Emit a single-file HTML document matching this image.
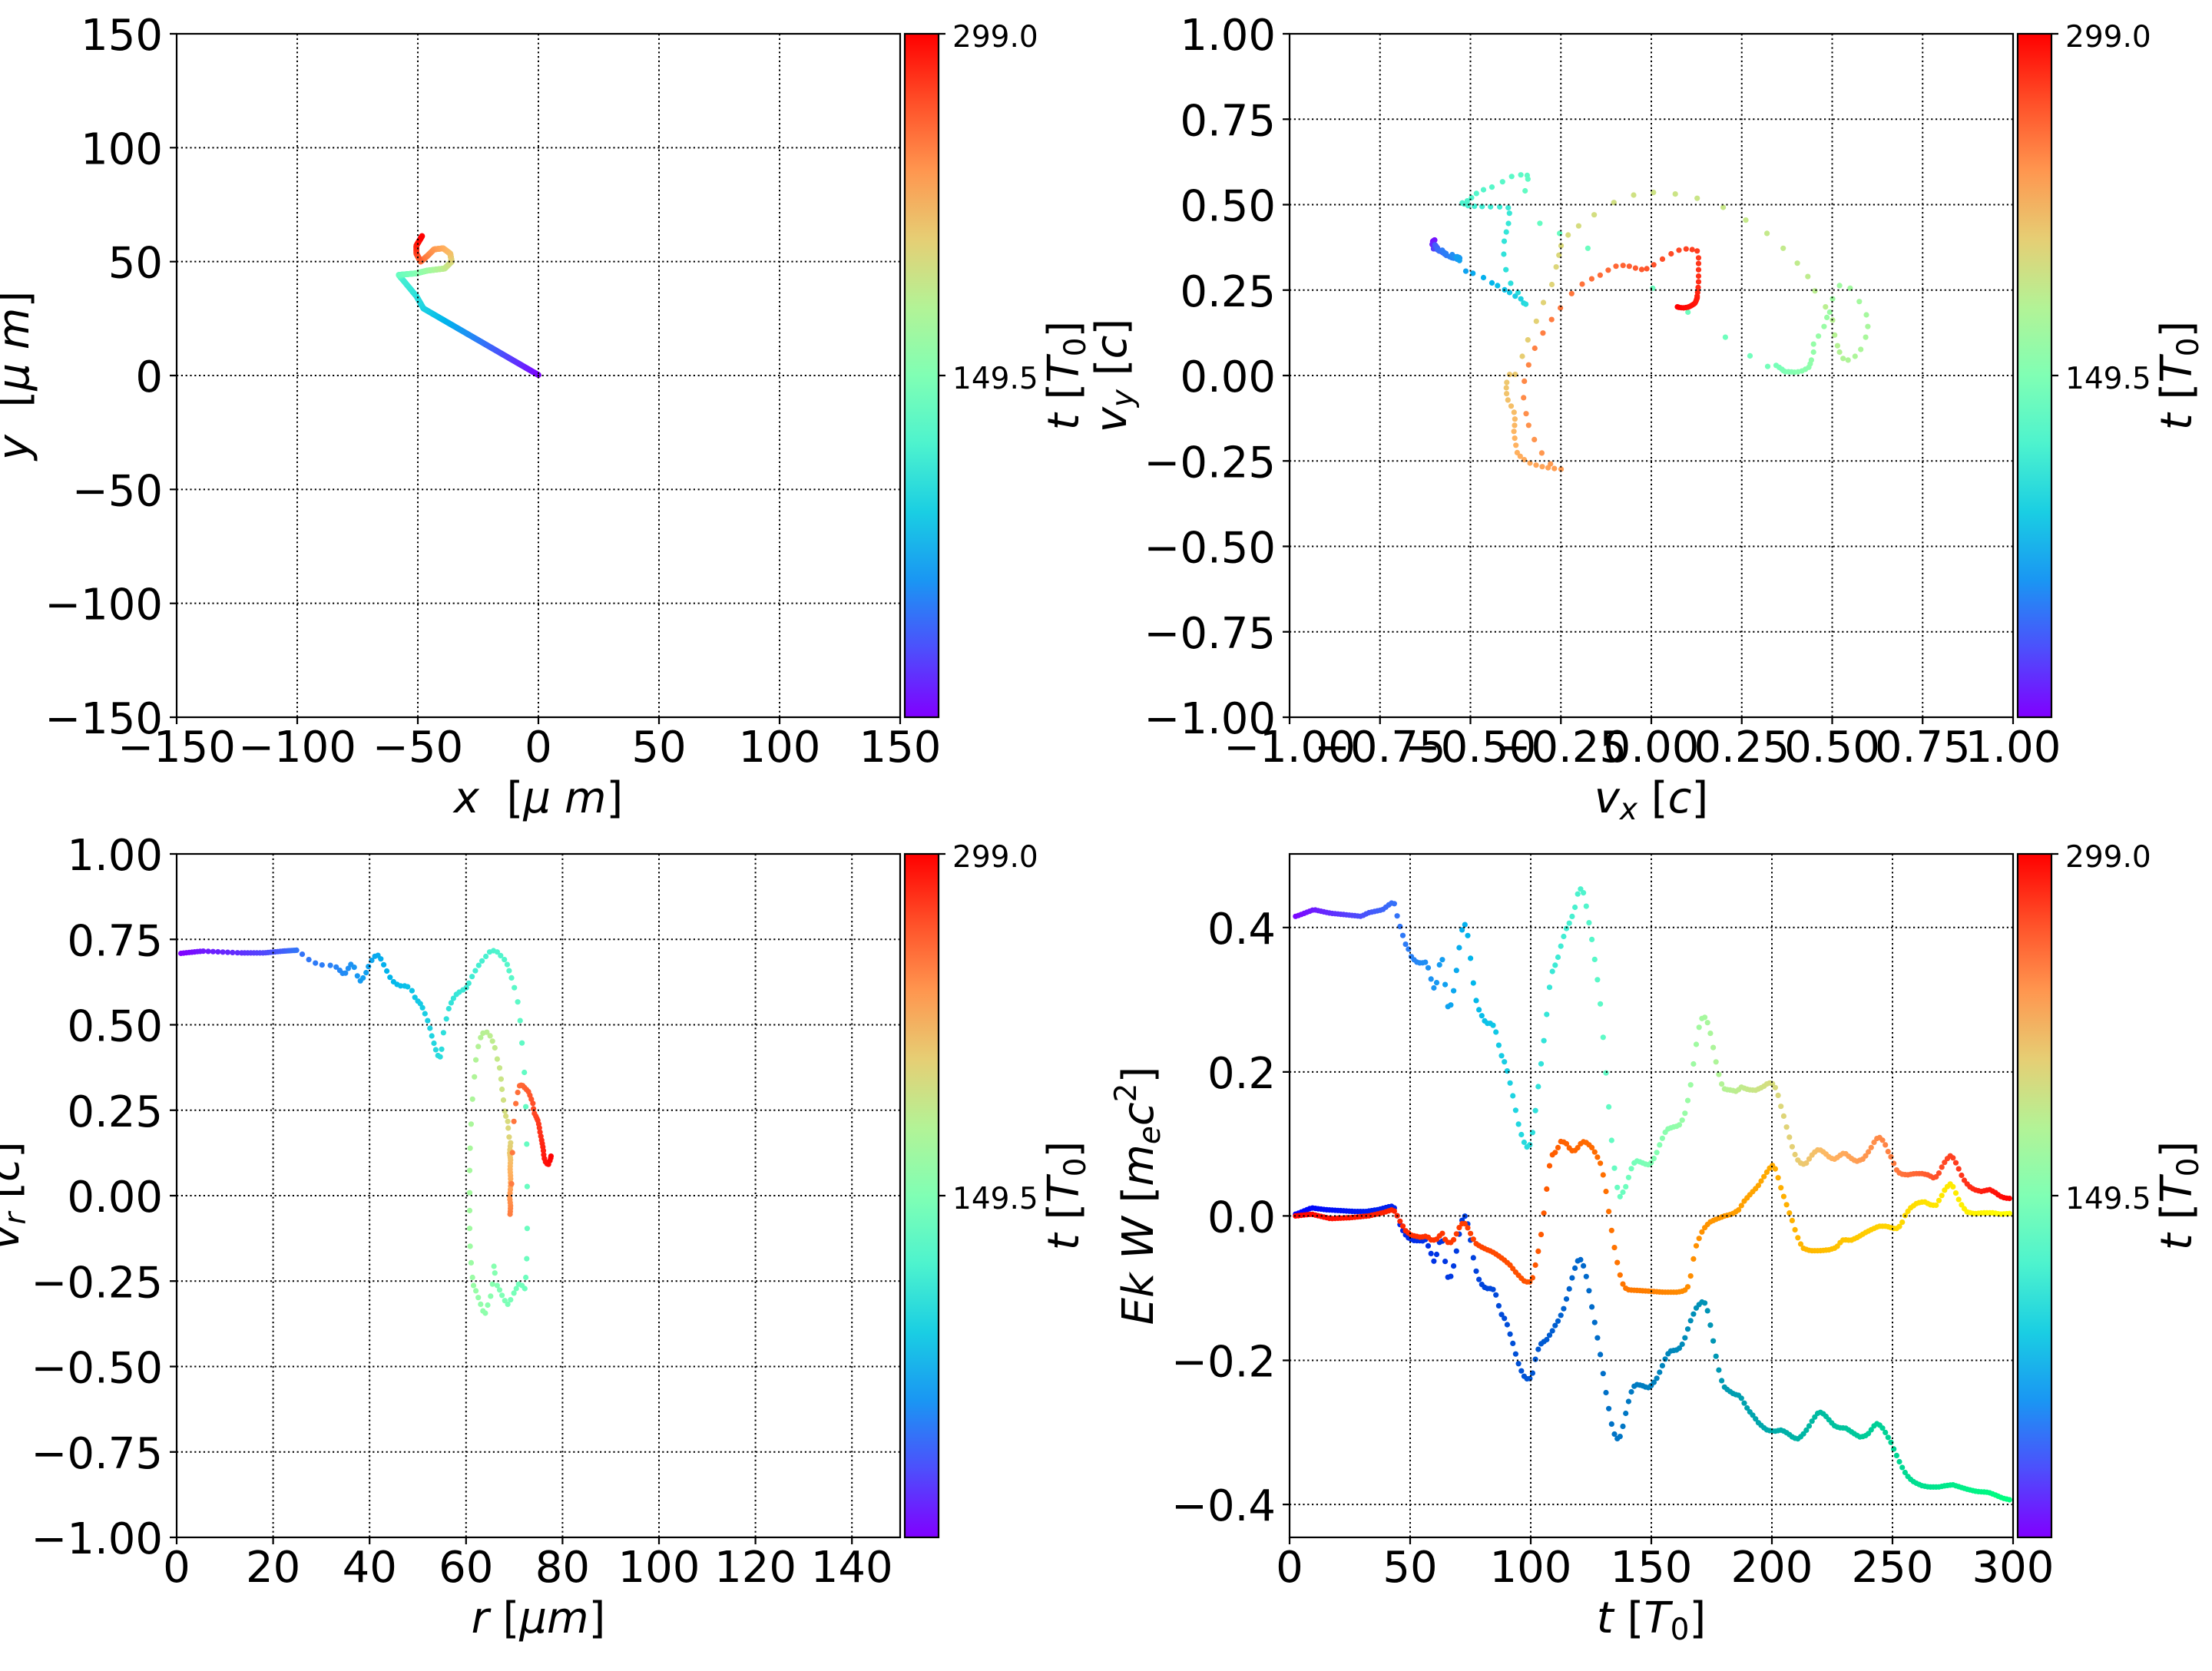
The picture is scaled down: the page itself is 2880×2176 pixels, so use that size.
<!DOCTYPE html>
<html><head><meta charset="utf-8">
<style>
html,body{margin:0;padding:0;background:#fff;}
svg{display:block;}
text{font-family:"DejaVu Sans","Liberation Sans",sans-serif;fill:#000;white-space:pre;}
.tk{font-size:56px;}
.lb{font-size:56px;}
.cb{font-size:39px;}
.it{font-style:italic;}
</style></head><body>
<svg id="fig" width="2880" height="2176" viewBox="0 0 2880 2176" xmlns="http://www.w3.org/2000/svg">
<defs>
<linearGradient id="rb" x1="0" y1="1" x2="0" y2="0">
<stop offset="0" stop-color="rgb(128,0,255)"/>
<stop offset="0.1" stop-color="rgb(77,79,252)"/>
<stop offset="0.2" stop-color="rgb(26,150,243)"/>
<stop offset="0.3" stop-color="rgb(26,206,227)"/>
<stop offset="0.4" stop-color="rgb(77,243,206)"/>
<stop offset="0.5" stop-color="rgb(128,255,180)"/>
<stop offset="0.6" stop-color="rgb(179,243,150)"/>
<stop offset="0.7" stop-color="rgb(230,206,116)"/>
<stop offset="0.8" stop-color="rgb(255,150,79)"/>
<stop offset="0.9" stop-color="rgb(255,79,40)"/>
<stop offset="1" stop-color="rgb(255,0,0)"/>
</linearGradient>
</defs>
<rect x="0" y="0" width="2880" height="2176" fill="#fff"/>
<g id="data"></g>

<!-- grids -->
<g fill="none" stroke="#000" stroke-width="2" stroke-dasharray="2.2 3.6">
<path d="M387 44V934M544 44V934M701 44V934M858 44V934M1015 44V934M230 192.33H1172M230 340.67H1172M230 489H1172M230 637.33H1172M230 785.67H1172"/>
<path d="M1796.75 44V934M1914.5 44V934M2032.25 44V934M2150 44V934M2267.75 44V934M2385.5 44V934M2503.25 44V934M1679 155.25H2621M1679 266.5H2621M1679 377.75H2621M1679 489H2621M1679 600.25H2621M1679 711.5H2621M1679 822.75H2621"/>
<path d="M355.6 1112V2002M481.2 1112V2002M606.8 1112V2002M732.4 1112V2002M858 1112V2002M983.6 1112V2002M1109.2 1112V2002M230 1223.25H1172M230 1334.5H1172M230 1445.75H1172M230 1557H1172M230 1668.25H1172M230 1779.5H1172M230 1890.75H1172"/>
<path d="M1836 1112V2002M1993 1112V2002M2150 1112V2002M2307 1112V2002M2464 1112V2002M1679 1207.8H2621M1679 1395.9H2621M1679 1583.4H2621M1679 1771.5H2621M1679 1959.1H2621"/>
</g>

<!-- spines -->
<g fill="none" stroke="#000" stroke-width="2.2">
<rect x="230" y="44" width="942" height="890"/>
<rect x="1679" y="44" width="942" height="890"/>
<rect x="230" y="1112" width="942" height="890"/>
<rect x="1679" y="1112" width="942" height="890"/>
</g>

<!-- colorbars -->
<g stroke="#000" stroke-width="2.2">
<rect x="1178" y="44" width="44" height="890" fill="url(#rb)"/>
<rect x="2627" y="44" width="44" height="890" fill="url(#rb)"/>
<rect x="1178" y="1112" width="44" height="890" fill="url(#rb)"/>
<rect x="2627" y="1112" width="44" height="890" fill="url(#rb)"/>
</g>

<!-- ticks -->
<g fill="none" stroke="#000" stroke-width="2.2">
<path d="M230 934v9M387 934v9M544 934v9M701 934v9M858 934v9M1015 934v9M1172 934v9M221 44h9M221 192.33h9M221 340.67h9M221 489h9M221 637.33h9M221 785.67h9M221 934h9"/>
<path d="M1679 934v9M1796.75 934v9M1914.5 934v9M2032.25 934v9M2150 934v9M2267.75 934v9M2385.5 934v9M2503.25 934v9M2621 934v9M1670 44h9M1670 155.25h9M1670 266.5h9M1670 377.75h9M1670 489h9M1670 600.25h9M1670 711.5h9M1670 822.75h9M1670 934h9"/>
<path d="M230 2002v9M355.6 2002v9M481.2 2002v9M606.8 2002v9M732.4 2002v9M858 2002v9M983.6 2002v9M1109.2 2002v9M221 1112h9M221 1223.25h9M221 1334.5h9M221 1445.75h9M221 1557h9M221 1668.25h9M221 1779.5h9M221 1890.75h9M221 2002h9"/>
<path d="M1679 2002v9M1836 2002v9M1993 2002v9M2150 2002v9M2307 2002v9M2464 2002v9M2621 2002v9M1670 1207.8h9M1670 1395.9h9M1670 1583.4h9M1670 1771.5h9M1670 1959.1h9"/>
<path d="M1222 44h9M1222 489h9M2671 44h9M2671 489h9M1222 1112h9M1222 1557h9M2671 1112h9M2671 1557h9"/>
</g>

<!-- TL tick labels -->
<g class="tk" text-anchor="middle">
<text x="230" y="992">−150</text><text x="387" y="992">−100</text><text x="544" y="992">−50</text><text x="701" y="992">0</text><text x="858" y="992">50</text><text x="1015" y="992">100</text><text x="1172" y="992">150</text>
</g>
<g class="tk" text-anchor="end">
<text x="212" y="65">150</text><text x="212" y="213.3">100</text><text x="212" y="361.7">50</text><text x="212" y="510">0</text><text x="212" y="658.3">−50</text><text x="212" y="806.7">−100</text><text x="212" y="955">−150</text>
</g>

<!-- TR tick labels -->
<g class="tk" text-anchor="middle">
<text x="1679" y="992">−1.00</text><text x="1796.75" y="992">−0.75</text><text x="1914.5" y="992">−0.50</text><text x="2032.25" y="992">−0.25</text><text x="2150" y="992">0.00</text><text x="2267.75" y="992">0.25</text><text x="2385.5" y="992">0.50</text><text x="2503.25" y="992">0.75</text><text x="2621" y="992">1.00</text>
</g>
<g class="tk" text-anchor="end">
<text x="1661" y="65">1.00</text><text x="1661" y="176.25">0.75</text><text x="1661" y="287.5">0.50</text><text x="1661" y="398.75">0.25</text><text x="1661" y="510">0.00</text><text x="1661" y="621.25">−0.25</text><text x="1661" y="732.5">−0.50</text><text x="1661" y="843.75">−0.75</text><text x="1661" y="955">−1.00</text>
</g>

<!-- BL tick labels -->
<g class="tk" text-anchor="middle">
<text x="230" y="2060">0</text><text x="355.6" y="2060">20</text><text x="481.2" y="2060">40</text><text x="606.8" y="2060">60</text><text x="732.4" y="2060">80</text><text x="858" y="2060">100</text><text x="983.6" y="2060">120</text><text x="1109.2" y="2060">140</text>
</g>
<g class="tk" text-anchor="end">
<text x="212" y="1133">1.00</text><text x="212" y="1244.25">0.75</text><text x="212" y="1355.5">0.50</text><text x="212" y="1466.75">0.25</text><text x="212" y="1578">0.00</text><text x="212" y="1689.25">−0.25</text><text x="212" y="1800.5">−0.50</text><text x="212" y="1911.75">−0.75</text><text x="212" y="2023">−1.00</text>
</g>

<!-- BR tick labels -->
<g class="tk" text-anchor="middle">
<text x="1679" y="2060">0</text><text x="1836" y="2060">50</text><text x="1993" y="2060">100</text><text x="2150" y="2060">150</text><text x="2307" y="2060">200</text><text x="2464" y="2060">250</text><text x="2621" y="2060">300</text>
</g>
<g class="tk" text-anchor="end">
<text x="1661" y="1228.8">0.4</text><text x="1661" y="1416.9">0.2</text><text x="1661" y="1604.4">0.0</text><text x="1661" y="1792.5">−0.2</text><text x="1661" y="1980.1">−0.4</text>
</g>

<!-- colorbar tick labels -->
<g class="cb">
<text x="1240" y="61">299.0</text><text x="1240" y="506">149.5</text>
<text x="2689" y="61">299.0</text><text x="2689" y="506">149.5</text>
<text x="1240" y="1129">299.0</text><text x="1240" y="1574">149.5</text>
<text x="2689" y="1129">299.0</text><text x="2689" y="1574">149.5</text>
</g>

<!-- axis labels -->
<text class="lb" x="701" y="1058" text-anchor="middle"><tspan class="it">x</tspan>  [<tspan class="it">μ</tspan> <tspan class="it">m</tspan>]</text>
<text class="lb" transform="translate(37,489) rotate(-90)" text-anchor="middle"><tspan class="it">y</tspan>  [<tspan class="it">μ</tspan> <tspan class="it">m</tspan>]</text>

<text class="lb" x="2150" y="1058" text-anchor="middle"><tspan class="it">v</tspan><tspan class="it" font-size="39" dy="9">x</tspan><tspan dy="-9"> [</tspan><tspan class="it">c</tspan>]</text>
<text class="lb" transform="translate(1466,489) rotate(-90)" text-anchor="middle"><tspan class="it">v</tspan><tspan class="it" font-size="39" dy="9">y</tspan><tspan dy="-9"> [</tspan><tspan class="it">c</tspan>]</text>

<text class="lb" x="701" y="2126" text-anchor="middle"><tspan class="it">r</tspan> [<tspan class="it">μm</tspan>]</text>
<text class="lb" transform="translate(24,1557) rotate(-90)" text-anchor="middle"><tspan class="it">v</tspan><tspan class="it" font-size="39" dy="9">r</tspan><tspan dy="-9"> [</tspan><tspan class="it">c</tspan>]</text>

<text class="lb" x="2150" y="2126" text-anchor="middle"><tspan class="it">t</tspan> [<tspan class="it">T</tspan><tspan font-size="39" dy="9">0</tspan><tspan dy="-9">]</tspan></text>
<text class="lb" transform="translate(1501,1557) rotate(-90)" text-anchor="middle"><tspan class="it">Ek</tspan> <tspan class="it">W</tspan> [<tspan class="it">m</tspan><tspan class="it" font-size="39" dy="9">e</tspan><tspan class="it" dy="-9">c</tspan><tspan font-size="39" dy="-22">2</tspan><tspan dy="22">]</tspan></text>

<!-- colorbar labels -->
<text class="lb" transform="translate(1404,489) rotate(-90)" text-anchor="middle"><tspan class="it">t</tspan> [<tspan class="it">T</tspan><tspan font-size="39" dy="9">0</tspan><tspan dy="-9">]</tspan></text>
<text class="lb" transform="translate(2853,489) rotate(-90)" text-anchor="middle"><tspan class="it">t</tspan> [<tspan class="it">T</tspan><tspan font-size="39" dy="9">0</tspan><tspan dy="-9">]</tspan></text>
<text class="lb" transform="translate(1404,1557) rotate(-90)" text-anchor="middle"><tspan class="it">t</tspan> [<tspan class="it">T</tspan><tspan font-size="39" dy="9">0</tspan><tspan dy="-9">]</tspan></text>
<text class="lb" transform="translate(2853,1557) rotate(-90)" text-anchor="middle"><tspan class="it">t</tspan> [<tspan class="it">T</tspan><tspan font-size="39" dy="9">0</tspan><tspan dy="-9">]</tspan></text>
</svg>

<script>
(function(){
var NS="http://www.w3.org/2000/svg";
var G=document.getElementById('data');
function cl(v){return Math.max(0,Math.min(1,v));}
function rgb(r,g,b){return 'rgb('+Math.round(cl(r)*255)+','+Math.round(cl(g)*255)+','+Math.round(cl(b)*255)+')';}
function rainbow(x){x=cl(x);return rgb(Math.abs(2*x-0.5),Math.sin(Math.PI*x),Math.cos(Math.PI*x/2));}
function autumn(x){x=cl(x);return rgb(1,x,0);}
function winter(x){x=cl(x);return rgb(0,x,1-0.5*x);}
function dot(X,Y,c,r){var e=document.createElementNS(NS,'circle');e.setAttribute('cx',X.toFixed(1));e.setAttribute('cy',Y.toFixed(1));e.setAttribute('r',r);e.setAttribute('fill',c);G.appendChild(e);}

/* ---------- Top-left: x-y trajectory ---------- */
var TLk=[[0,763,703],[90,600,578],[100,590,555],[115,568,520],[135,565,515],[150,590,512],[165,605,507],[185,630,503],[200,640,490],[215,638,475],[225,628,465],[235,615,467],[245,605,480],[255,596,490],[270,590,475],[285,590,460],[299,598,442]];
function tlTf(px,py){return [230+(px-250)/1026*942,44+(py-62)/1284*890];}
for(var t=0;t<=299;t+=0.25){
  var k=0;while(k<TLk.length-2&&TLk[k+1][0]<t)k++;
  var a=TLk[k],b=TLk[k+1],w=(t-a[0])/(b[0]-a[0]);w=cl(w);
  var p=tlTf(a[1]+(b[1]-a[1])*w,a[2]+(b[2]-a[2])*w);
  dot(p[0],p[1],rainbow(t/299),3.8);
}

function segs(list,tf,r){
  for(var s=0;s<list.length;s++){
    var t0=list[s][0],t1=list[s][1],n=list[s][2],pts=list[s][3],m=pts.length;
    for(var i=0;i<n;i++){
      var u=n>1?i/(n-1):0,px,py;
      if(m===1){px=pts[0][0];py=pts[0][1];}
      else{var f=u*(m-1),k=Math.min(m-2,Math.floor(f)),w=f-k;px=pts[k][0]+(pts[k+1][0]-pts[k][0])*w;py=pts[k][1]+(pts[k+1][1]-pts[k][1])*w;}
      var t=t0+u*(t1-t0),p=tf(px,py);
      dot(p[0],p[1],rainbow(t/299),r);
    }
  }
}

/* ---------- Top-right: vx-vy ---------- */
function trTf(px,py){return [1679+(px-260)/1026*942,44+(py-62)/1284*890];}
segs([
 [0,40,40,[[463,452],[466,449],[462,458],[467,462],[464,466],[470,465],[466,458],[472,470]]],
 [41,65,24,[[470,468],[478,474],[484,480],[476,468],[488,482],[494,484],[490,476],[498,486],[502,483],[496,480],[501,488]]],
 [66,99,11,[[510,508],[520,512],[535,520],[547,530],[555,535],[565,543],[572,548],[580,555],[588,560],[592,568],[595,570]]],
 [100,119,16,[[584,548],[572,528],[565,497],[563,462],[566,440],[570,423],[572,400],[570,388],[555,387],[540,387],[527,386],[515,386],[508,382],[505,380]]],
 [120,139,17,[[505,380],[512,376],[518,370],[525,362],[535,355],[547,350],[562,340],[575,330],[588,327],[597,328],[598,335],[594,357],[615,418],[643,437],[683,465],[775,540],[825,585]]],
 [140,143,3,[[878,632],[913,667],[938,687]]],
 [144,160,14,[[950,685],[958,692],[962,697],[970,697],[978,698],[988,695],[997,688],[1000,675]]],
 [161,185,23,[[1003,660],[1003,645],[1010,630],[1018,612],[1022,595],[1026,585],[1030,560],[1040,535],[1055,540],[1068,565],[1078,590],[1080,612],[1077,632],[1070,655],[1062,668],[1052,675],[1045,672],[1040,660],[1037,648],[1033,628],[1030,600],[1020,575],[1005,545]]],
 [186,203,16,[[995,518],[980,493],[960,465],[937,437],[907,412],[875,388],[838,371],[807,363],[776,360],[748,365],[720,379],[692,402],[670,423],[655,440],[645,460],[642,478]]],
 [204,213,8,[[638,500],[632,533],[620,567],[610,602],[598,637],[590,668],[580,702],[572,702]]],
 [214,236,20,[[568,717],[567,733],[570,752],[578,770],[580,790],[578,808],[580,828],[583,850],[590,860],[603,870],[617,875],[630,878],[645,880]]],
 [237,252,12,[[630,870],[613,842],[600,803],[595,773],[590,730],[598,688],[610,645],[627,607],[644,577]]],
 [253,276,18,[[660,550],[677,530],[692,520],[705,513],[718,500],[730,497],[740,498],[750,502],[760,505],[768,503],[780,493],[795,480],[808,470],[820,466],[830,467],[838,470]]],
 [277,286,8,[[840,483],[840,498],[840,515],[840,530],[839,545],[838,555]]],
 [287,299,16,[[838,558],[837,562],[835,568],[832,571],[828,574],[824,576],[818,577],[812,576],[810,575]]]
],trTf,3.6);

/* ---------- Bottom-left: r-vr ---------- */
function blTf(px,py){return [230+(px-16)/1521*942,1112+(py-20)/1533*890];}
segs([
 [0,45,40,[[25,243],[70,238],[150,242],[200,242],[240,238],[268,236]]],
 [45,99,42,[[280,245],[295,258],[310,266],[325,270],[345,270],[355,276],[362,285],[368,291],[375,282],[380,267],[388,270],[395,292],[402,305],[408,298],[415,285],[420,270],[428,255],[435,247],[442,248],[448,262],[455,276],[462,293],[470,305],[478,312],[486,316],[495,316],[502,318],[512,328],[518,345],[525,352],[530,358],[535,370],[541,386],[547,404],[551,423],[556,441],[560,457],[565,472],[570,475]]],
 [100,120,18,[[573,458],[577,421],[583,390],[588,367],[593,354],[598,344],[604,335],[610,330],[618,325],[625,320],[630,310],[637,295],[644,282],[651,270],[658,260],[666,250],[674,240],[682,237]]],
 [121,139,17,[[690,240],[697,248],[705,257],[711,268],[715,282],[720,298],[726,320],[733,352],[738,394],[742,444],[747,510],[750,587],[752,671],[753,766],[753,860],[752,928],[750,970]]],
 [140,165,23,[[748,995],[742,988],[735,985],[730,995],[725,1005],[718,1020],[712,1030],[706,1022],[700,1010],[695,998],[690,988],[685,960],[683,945],[680,985],[676,1012],[670,1032],[665,1050],[660,1045],[655,1030],[650,1015],[645,1000],[640,988],[638,970]]],
 [166,182,14,[[635,937],[633,900],[632,860],[632,820],[632,780],[632,730],[633,680],[635,626],[638,570],[642,520],[645,482],[650,452],[655,432],[660,422]]],
 [183,205,14,[[668,420],[675,428],[680,440],[685,455],[690,480],[695,500],[698,525],[700,548],[703,572],[706,597],[708,608],[712,620],[713,635],[715,655]]],
 [206,250,24,[[718,668],[716,690],[718,705],[717,725],[718,745],[718,768],[716,790],[718,810],[717,828]]],
 [251,256,5,[[720,760],[722,690],[725,620],[729,580],[733,555]]],
 [257,299,30,[[737,540],[742,538],[748,545],[755,552],[760,565],[765,580],[767,600],[772,610],[775,617],[778,630],[780,645],[783,660],[785,672],[787,685],[788,700],[792,712],[797,718],[802,705],[803,698]]]
],blTf,3.6);

/* ---------- Bottom-right: energies vs t ---------- */
function series(keys,cmap){
  for(var t=2.5;t<=299.5;t+=1.17){
    var px=14+t*1523/300,k=0;
    while(k<keys.length-2&&keys[k+1][0]<px)k++;
    var a=keys[k],b=keys[k+1],w=cl((px-a[0])/(b[0]-a[0]));
    var py=a[1]+(b[1]-a[1])*w;
    dot(1679+(px-14)/1523*942,1112+(py-20)/1533*890,cmap(t/299),3.6);
  }
}
var EK=[[28,160],[65,145],[100,153],[165,160],[180,152],[210,145],[228,130],[236,132],[240,157],[247,185],[253,205],[258,222],[265,235],[270,250],[280,262],[290,265],[300,263],[308,280],[313,307],[320,327],[326,297],[332,250],[338,262],[343,335],[349,372],[355,354],[362,310],[368,257],[374,207],[380,175],[386,182],[392,224],[398,285],[404,336],[410,363],[416,377],[422,390],[428,400],[438,400],[446,408],[452,437],[458,468],[464,480],[470,497],[476,524],[482,552],[488,583],[493,613],[499,640],[505,660],[512,677],[518,678],[524,658],[530,610],[536,555],[542,503],[548,452],[554,395],[560,327],[567,284],[573,270],[579,252],[585,227],[591,205],[597,187],[603,175],[610,157],[616,135],[621,108],[627,98],[633,108],[639,140],[645,178],[651,216],[657,262],[663,308],[669,364],[675,443],[681,524],[687,600],[693,676],[699,736],[705,776],[711,792],[717,775],[723,764],[729,740],[736,718],[743,708],[755,712],[768,718],[776,712],[785,696],[790,680],[796,665],[802,650],[808,638],[820,633],[833,630],[838,622],[845,608],[851,580],[857,548],[863,500],[869,455],[875,413],[881,390],[887,385],[893,395],[899,418],[905,450],[911,483],[917,512],[923,535],[930,548],[945,550],[955,553],[965,543],[980,549],[995,550],[1010,543],[1020,535],[1028,533],[1035,540],[1042,560],[1048,585],[1054,607],[1060,632],[1066,655],[1073,680],[1080,700],[1087,712],[1095,716],[1103,713],[1110,700],[1118,690],[1128,682],[1140,690],[1152,702],[1163,705],[1170,698],[1182,690],[1195,702],[1207,710],[1222,704],[1236,683],[1248,660],[1255,655],[1265,665],[1275,690],[1283,705],[1290,727],[1300,738],[1315,740],[1330,737],[1345,737],[1358,740],[1372,748],[1380,738],[1388,720],[1397,705],[1405,697],[1412,703],[1420,720],[1428,740],[1436,755],[1445,766],[1455,773],[1470,777],[1488,773],[1500,780],[1510,788],[1520,792],[1535,793]];
var WW=[[28,828],[60,814],[90,818],[120,820],[150,822],[175,822],[200,818],[228,810],[236,815],[245,848],[253,866],[262,880],[275,887],[295,888],[300,885],[307,902],[313,920],[319,937],[325,913],[332,880],[337,892],[343,948],[349,977],[355,964],[362,932],[368,893],[374,855],[380,830],[386,835],[392,865],[398,908],[404,945],[410,968],[416,982],[422,990],[428,995],[440,995],[446,1000],[452,1023],[458,1050],[464,1058],[470,1068],[476,1090],[482,1110],[488,1133],[493,1155],[499,1172],[505,1188],[512,1197],[519,1198],[525,1188],[530,1160],[536,1135],[542,1120],[548,1115],[555,1110],[561,1100],[567,1090],[573,1078],[579,1068],[585,1055],[591,1040],[597,1018],[603,995],[609,970],[615,948],[621,932],[627,930],[633,945],[639,970],[645,1003],[651,1040],[657,1075],[663,1110],[669,1148],[675,1192],[681,1235],[687,1270],[693,1305],[699,1325],[705,1333],[711,1325],[717,1298],[723,1268],[729,1242],[736,1218],[743,1210],[755,1212],[768,1218],[776,1212],[785,1200],[790,1190],[796,1175],[802,1160],[808,1145],[815,1135],[828,1133],[833,1130],[838,1125],[845,1110],[851,1090],[857,1070],[863,1055],[869,1040],[875,1032],[881,1025],[887,1025],[893,1040],[899,1072],[905,1108],[911,1143],[917,1175],[923,1200],[930,1217],[940,1225],[950,1232],[962,1235],[970,1250],[980,1268],[990,1280],[1000,1295],[1010,1305],[1020,1313],[1035,1315],[1050,1312],[1063,1320],[1075,1330],[1085,1332],[1095,1322],[1105,1308],[1115,1290],[1125,1275],[1133,1272],[1142,1280],[1150,1290],[1160,1302],[1170,1307],[1185,1308],[1195,1315],[1205,1322],[1215,1328],[1225,1326],[1235,1318],[1242,1305],[1250,1298],[1258,1302],[1265,1312],[1272,1325],[1280,1340],[1288,1360],[1295,1377],[1302,1393],[1310,1408],[1318,1420],[1330,1430],[1345,1437],[1360,1440],[1380,1440],[1395,1437],[1410,1435],[1425,1440],[1440,1445],[1460,1450],[1485,1452],[1500,1458],[1515,1465],[1535,1470]];
var WA=[[28,832],[60,828],[100,838],[140,836],[180,832],[210,825],[230,818],[236,822],[247,845],[258,865],[270,875],[290,880],[303,877],[313,887],[323,885],[335,870],[343,888],[350,893],[357,890],[363,878],[370,860],[378,848],[385,850],[392,865],[398,878],[405,893],[415,900],[428,907],[440,912],[452,920],[465,930],[478,942],[490,958],[500,970],[510,980],[520,980],[526,970],[530,950],[536,920],[542,885],[548,838],[554,785],[560,725],[567,695],[575,688],[585,665],[595,667],[605,683],[612,688],[620,680],[630,665],[640,668],[650,678],[660,695],[670,718],[676,750],[682,790],[687,830],[693,872],[699,910],[705,943],[711,970],[718,992],[728,998],[760,1000],[800,1003],[830,1003],[845,1000],[852,992],[857,975],[862,942],[868,905],[875,885],[882,868],[890,855],[900,845],[915,838],[930,832],[945,828],[960,818],[970,800],[985,782],[1000,765],[1012,745],[1022,728],[1030,718],[1036,725],[1042,745],[1050,775],[1058,800],[1066,825],[1073,845],[1080,870],[1088,892],[1096,905],[1110,910],[1130,910],[1150,908],[1165,903],[1172,893],[1180,885],[1195,887],[1210,880],[1225,870],[1240,862],[1255,855],[1270,855],[1285,860],[1295,860],[1303,848],[1310,830],[1320,815],[1335,803],[1350,800],[1365,808],[1375,808],[1385,790],[1395,770],[1405,760],[1412,768],[1420,790],[1430,810],[1440,823],[1455,827],[1475,825],[1495,825],[1510,828],[1535,826]];
series(EK,rainbow);
series(WW,winter);
series(WA,autumn);
})();
</script>
</body></html>
